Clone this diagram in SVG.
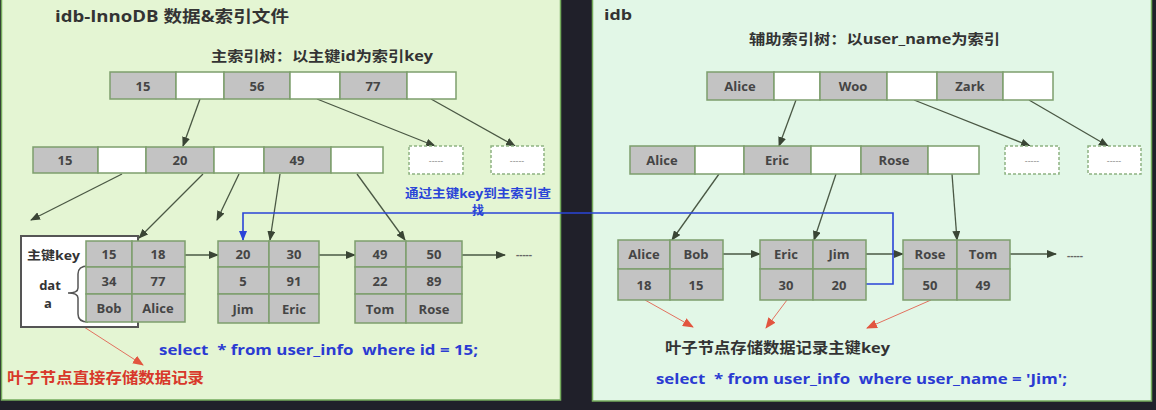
<svg xmlns="http://www.w3.org/2000/svg" width="1156" height="410" viewBox="0 0 1156 410">
<defs>
<marker id="ah" markerUnits="userSpaceOnUse" markerWidth="10" markerHeight="8" refX="9" refY="4" orient="auto"><path d="M0,0 L10,4 L0,8 z" fill="#3a4535"/></marker>
<marker id="bh" markerUnits="userSpaceOnUse" markerWidth="10" markerHeight="8" refX="9" refY="4" orient="auto"><path d="M0,0 L10,4 L0,8 z" fill="#2a44d8"/></marker>
<marker id="rh" markerUnits="userSpaceOnUse" markerWidth="11" markerHeight="9" refX="10" refY="4.5" orient="auto"><path d="M0,0 L11,4.5 L0,9 z" fill="#e2553f"/></marker>
<style>
.g{fill:#c3c3c3;stroke:#7d9e6d;stroke-width:1.5}
.w{fill:#fff;stroke:#7d9e6d;stroke-width:1.5}
.d{fill:#fff;stroke:#8fb282;stroke-width:1.5;stroke-dasharray:3 2}
.t{font-family:"Open Sans","Noto Sans CJK SC",sans-serif;font-size:13px;font-weight:bold;fill:#454545;text-anchor:middle;dominant-baseline:central}
.s{font-family:"Open Sans","Noto Sans CJK SC",sans-serif;font-size:9px;fill:#888;text-anchor:middle;dominant-baseline:central}
.h{font-family:"Open Sans","Noto Sans CJK SC",sans-serif;font-weight:bold;fill:#333;dominant-baseline:central}
.e{stroke:#4a5844;stroke-width:1.3;fill:none;marker-end:url(#ah)}
.r{stroke:#e2715f;stroke-width:1;fill:none;marker-end:url(#rh)}
.b{stroke:#2a44d8;stroke-width:1.6;fill:none;marker-end:url(#bh)}
</style>
</defs>
<rect x="0" y="0" width="1156" height="410" fill="#20202a"/>
<rect x="1.5" y="-2" width="559" height="402" fill="#e4f5d3" stroke="#74ab5c" stroke-width="1.5"/>
<rect x="592.5" y="-2" width="559" height="403" fill="#e2f7e7" stroke="#74ab5c" stroke-width="1.5"/>

<g id="titles">
<text class="h" x="55" y="16" font-size="16" textLength="234" lengthAdjust="spacingAndGlyphs">idb-InnoDB 数据&amp;索引文件</text>
<text class="h" x="211" y="55" font-size="14" textLength="222" lengthAdjust="spacingAndGlyphs">主索引树：以主键id为索引key</text>
<text class="h" x="604" y="14" font-size="15" textLength="28" lengthAdjust="spacingAndGlyphs">idb</text>
<text class="h" x="749" y="38" font-size="14" textLength="251" lengthAdjust="spacingAndGlyphs">辅助索引树：以user_name为索引</text>
</g>

<g id="connectors">
<path class="e" d="M200,99 L183,146"/>
<path class="e" d="M317,99 L435,146"/>
<path class="e" d="M431,99 L515,146"/>
<path class="e" d="M122,174 L31,220"/>
<path class="e" d="M203,174 L139,238"/>
<path class="e" d="M239,174 L217,220"/>
<path class="e" d="M280,174 L270,240"/>
<path class="e" d="M357,174 L405,240"/>
<path class="e" d="M185,255 L218,255"/>
<path class="e" d="M319,255 L355,255"/>
<path class="e" d="M462,255 L505,255"/>
<path class="e" d="M796,100 L779,146"/>
<path class="e" d="M914,100 L1030,146"/>
<path class="e" d="M1029,100 L1108,146"/>
<path class="e" d="M719,174 L672,240"/>
<path class="e" d="M836,174 L814,240"/>
<path class="e" d="M952,174 L957,240"/>
<path class="e" d="M723,254 L760,254"/>
<path class="e" d="M866,254 L903,254"/>
<path class="e" d="M1010,254 L1056,254"/>
<path class="b" d="M866,284 H893 V213 H243 V240"/>
<path class="r" d="M84,327 L143,365"/>
<path class="r" d="M645,300 L693,327"/>
<path class="r" d="M787,300 L766,328"/>
<path class="r" d="M931,300 L867,328"/>
</g>

<g id="left-root">
<rect class="g" x="110" y="72" width="66" height="27"/><rect class="w" x="176" y="72" width="48" height="27"/>
<rect class="g" x="224" y="72" width="66" height="27"/><rect class="w" x="290" y="72" width="50" height="27"/>
<rect class="g" x="340" y="72" width="67" height="27"/><rect class="w" x="407" y="72" width="49" height="27"/>
<text class="t" x="143" y="86">15</text><text class="t" x="257" y="86">56</text><text class="t" x="373" y="86">77</text>
</g>

<g id="left-inner">
<rect class="g" x="33" y="147" width="65" height="26"/><rect class="w" x="98" y="147" width="48" height="26"/>
<rect class="g" x="146" y="147" width="68" height="26"/><rect class="w" x="214" y="147" width="50" height="26"/>
<rect class="g" x="264" y="147" width="67" height="26"/><rect class="w" x="331" y="147" width="52" height="26"/>
<text class="t" x="65" y="160">15</text><text class="t" x="180" y="160">20</text><text class="t" x="297" y="160">49</text>
</g>
<g id="left-dash1"><rect class="d" x="409" y="146" width="54" height="28"/><text class="s" x="436" y="160">-----</text></g>
<g id="left-dash2"><rect class="d" x="491" y="146" width="53" height="28"/><text class="s" x="517" y="160">-----</text></g>

<g id="note">
<text class="h" x="478" y="193" font-size="12" fill="#2a44d8" style="fill:#2a44d8" text-anchor="middle" textLength="146" lengthAdjust="spacingAndGlyphs">通过主键key到主索引查</text>
<text class="h" x="478" y="210" font-size="12" style="fill:#2a44d8" text-anchor="middle">找</text>
</g>

<g id="left-leaf1">
<rect x="21" y="236" width="117" height="91" fill="#fff" stroke="#555" stroke-width="2"/>
<text class="h" x="27" y="255" font-size="12" textLength="53" lengthAdjust="spacingAndGlyphs">主键key</text>
<text class="h" x="50" y="285" font-size="13" text-anchor="middle">dat</text>
<text class="h" x="48" y="303" font-size="13" text-anchor="middle">a</text>
<path d="M88,266 Q78,266 78,274 V288 Q78,293 68,293 Q78,293 78,298 V314 Q78,322 88,322" fill="none" stroke="#555" stroke-width="1.5"/>
<rect class="g" x="86" y="241" width="46" height="26"/><rect class="g" x="132" y="241" width="53" height="26"/>
<rect class="g" x="86" y="267" width="46" height="27"/><rect class="g" x="132" y="267" width="53" height="27"/>
<rect class="g" x="86" y="294" width="46" height="28"/><rect class="g" x="132" y="294" width="53" height="28"/>
<text class="t" x="109" y="254">15</text><text class="t" x="158" y="254">18</text>
<text class="t" x="109" y="281">34</text><text class="t" x="158" y="281">77</text>
<text class="t" x="109" y="308">Bob</text><text class="t" x="158" y="308">Alice</text>
</g>
<g id="left-leaf2">
<rect class="g" x="218" y="241" width="51" height="26"/><rect class="g" x="269" y="241" width="50" height="26"/>
<rect class="g" x="218" y="267" width="51" height="27"/><rect class="g" x="269" y="267" width="50" height="27"/>
<rect class="g" x="218" y="294" width="51" height="29"/><rect class="g" x="269" y="294" width="50" height="29"/>
<text class="t" x="243" y="254">20</text><text class="t" x="294" y="254">30</text>
<text class="t" x="243" y="281">5</text><text class="t" x="294" y="281">91</text>
<text class="t" x="243" y="309">Jim</text><text class="t" x="294" y="309">Eric</text>
</g>
<g id="left-leaf3">
<rect class="g" x="355" y="241" width="51" height="26"/><rect class="g" x="406" y="241" width="56" height="26"/>
<rect class="g" x="355" y="267" width="51" height="27"/><rect class="g" x="406" y="267" width="56" height="27"/>
<rect class="g" x="355" y="294" width="51" height="29"/><rect class="g" x="406" y="294" width="56" height="29"/>
<text class="t" x="380" y="254">49</text><text class="t" x="434" y="254">50</text>
<text class="t" x="380" y="281">22</text><text class="t" x="434" y="281">89</text>
<text class="t" x="380" y="309">Tom</text><text class="t" x="434" y="309">Rose</text>
</g>
<g id="left-more"><text class="t" x="524" y="254" style="font-size:10px;fill:#666">-----</text></g>

<g id="left-texts">
<text class="h" x="159" y="349" font-size="15" style="fill:#2b3bd2" textLength="319" lengthAdjust="spacingAndGlyphs" xml:space="preserve">select  * from user_info  where id = 15;</text>
<text class="h" x="7" y="377" font-size="15" style="fill:#d8382a" textLength="197" lengthAdjust="spacingAndGlyphs">叶子节点直接存储数据记录</text>
</g>

<g id="right-root">
<rect class="g" x="707" y="72" width="67" height="28"/><rect class="w" x="774" y="72" width="46" height="28"/>
<rect class="g" x="820" y="72" width="67" height="28"/><rect class="w" x="887" y="72" width="50" height="28"/>
<rect class="g" x="937" y="72" width="66" height="28"/><rect class="w" x="1003" y="72" width="50" height="28"/>
<text class="t" x="740" y="86">Alice</text><text class="t" x="853" y="86">Woo</text><text class="t" x="970" y="86">Zark</text>
</g>
<g id="right-inner">
<rect class="g" x="630" y="146" width="65" height="28"/><rect class="w" x="695" y="146" width="49" height="28"/>
<rect class="g" x="744" y="146" width="67" height="28"/><rect class="w" x="811" y="146" width="50" height="28"/>
<rect class="g" x="861" y="146" width="67" height="28"/><rect class="w" x="928" y="146" width="51" height="28"/>
<text class="t" x="662" y="160">Alice</text><text class="t" x="777" y="160">Eric</text><text class="t" x="894" y="160">Rose</text>
</g>
<g id="right-dash1"><rect class="d" x="1005" y="146" width="54" height="28"/><text class="s" x="1032" y="160">-----</text></g>
<g id="right-dash2"><rect class="d" x="1088" y="146" width="53" height="28"/><text class="s" x="1114" y="160">-----</text></g>

<g id="right-leaf1">
<rect class="g" x="618" y="240" width="52" height="29"/><rect class="g" x="670" y="240" width="53" height="29"/>
<rect class="g" x="618" y="269" width="52" height="31"/><rect class="g" x="670" y="269" width="53" height="31"/>
<text class="t" x="644" y="254">Alice</text><text class="t" x="696" y="254">Bob</text>
<text class="t" x="644" y="285">18</text><text class="t" x="696" y="285">15</text>
</g>
<g id="right-leaf2">
<rect class="g" x="760" y="240" width="53" height="29"/><rect class="g" x="813" y="240" width="53" height="29"/>
<rect class="g" x="760" y="269" width="53" height="31"/><rect class="g" x="813" y="269" width="53" height="31"/>
<text class="t" x="786" y="254">Eric</text><text class="t" x="839" y="254">Jim</text>
<text class="t" x="786" y="285">30</text><text class="t" x="839" y="285">20</text>
</g>
<g id="right-leaf3">
<rect class="g" x="903" y="240" width="54" height="29"/><rect class="g" x="957" y="240" width="53" height="29"/>
<rect class="g" x="903" y="269" width="54" height="31"/><rect class="g" x="957" y="269" width="53" height="31"/>
<text class="t" x="930" y="254">Rose</text><text class="t" x="983" y="254">Tom</text>
<text class="t" x="930" y="285">50</text><text class="t" x="983" y="285">49</text>
</g>
<g id="right-more"><text class="t" x="1075" y="255" style="font-size:10px;fill:#666">-----</text></g>

<g id="right-texts">
<text class="h" x="665" y="347" font-size="15" textLength="225" lengthAdjust="spacingAndGlyphs">叶子节点存储数据记录主键key</text>
<text class="h" x="656" y="378" font-size="15" style="fill:#2b3bd2" textLength="411" lengthAdjust="spacingAndGlyphs" xml:space="preserve">select  * from user_info  where user_name = 'Jim';</text>
</g>
</svg>
